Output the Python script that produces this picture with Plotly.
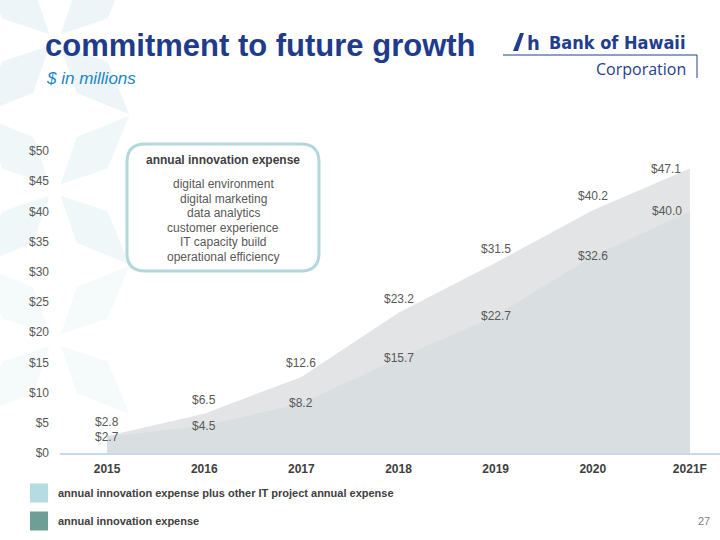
import math
import plotly.graph_objects as go

# ---------------- data ----------------
years = ["2015", "2016", "2017", "2018", "2019", "2020", "2021F"]
total_expense = [2.8, 6.5, 12.6, 23.2, 31.5, 40.2, 47.1]        # innovation + other IT project
innovation_expense = [2.7, 4.5, 8.2, 15.7, 22.7, 32.6, 40.0]
y_ticks = [0, 5, 10, 15, 20, 25, 30, 35, 40, 45, 50]
box_items = ["digital environment", "digital marketing", "data analytics",
             "customer experience", "IT capacity build", "operational efficiency"]
legend_labels = ["annual innovation expense plus other IT project annual expense",
                 "annual innovation expense"]

# ---------------- layout helpers ----------------
W, H = 720, 540
L, R, T, B = 60, 720, 151, 453
FONT = "Liberation Sans, Arial, sans-serif"


def px(x):
    return (x - L) / (R - L)


def py(y):
    return (B - y) / (B - T)


xpos = list(range(len(years)))

fig = go.Figure()

fig.add_trace(go.Scatter(
    x=xpos, y=total_expense, mode="lines", fill="tozeroy",
    line=dict(width=0, color="#e3e4e5"), fillcolor="#e3e4e5",
    hoverinfo="skip", showlegend=False))
fig.add_trace(go.Scatter(
    x=xpos, y=innovation_expense, mode="lines", fill="tozeroy",
    line=dict(width=0, color="#d9dee1"), fillcolor="#d9dee1",
    hoverinfo="skip", showlegend=False))

annotations = []
shapes = []

# data labels
n = len(years)
for i in range(n):
    last = (i == n - 1)
    annotations.append(dict(
        x=xpos[i], y=total_expense[i], xref="x", yref="y",
        text=f"${total_expense[i]:.1f}", showarrow=False,
        xshift=-24 if last else 0, yshift=0 if last else 14,
        font=dict(family=FONT, size=12, color="#595959")))
    annotations.append(dict(
        x=xpos[i], y=innovation_expense[i], xref="x", yref="y",
        text=f"${innovation_expense[i]:.1f}", showarrow=False,
        xshift=-23 if last else 0,
        font=dict(family=FONT, size=12, color="#595959")))

# background decoration (pale kites)
for cy, op in [(40, 0.8), (190, 0.7), (340, 0.45)]:
    cx = 55
    for ang in [45, -45, 135, -135]:
        a = math.radians(ang)
        Ln, wd = 105, 22
        dx, dy = math.cos(a), math.sin(a)
        nx, ny = -dy, dx
        tip = (cx + dx * Ln, cy + dy * Ln)
        m = (cx + dx * Ln * 0.5, cy + dy * Ln * 0.5)
        s1 = (m[0] + nx * wd, m[1] + ny * wd)
        s2 = (m[0] - nx * wd, m[1] - ny * wd)
        b0 = (cx + dx * 8, cy + dy * 8)
        pts = [b0, s1, tip, s2]
        path = "M " + " L ".join(f"{px(p[0]):.4f},{py(p[1]):.4f}" for p in pts) + " Z"
        shapes.append(dict(type="path", path=path, xref="paper", yref="paper",
                           fillcolor="#e8f3f6", opacity=op, line=dict(width=0),
                           layer="below"))

# title & subtitle
annotations.append(dict(x=px(43), y=py(46), xref="paper", yref="paper",
                        xanchor="left", yanchor="middle", showarrow=False,
                        text="<b>commitment to future growth</b>",
                        font=dict(family=FONT, size=31, color="#1f3b8c")))
annotations.append(dict(x=px(44), y=py(78), xref="paper", yref="paper",
                        xanchor="left", yanchor="middle", showarrow=False,
                        text="<i>$ in millions</i>",
                        font=dict(family=FONT, size=17, color="#1b86c8")))

# logo
LOGO = "#1f3e8e"
annotations.append(dict(x=px(687), y=py(43), xref="paper", yref="paper",
                        xanchor="right", yanchor="middle", showarrow=False,
                        text="<b>Bank of Hawaii</b>",
                        font=dict(family="DejaVu Sans Condensed, Liberation Sans Narrow, sans-serif",
                                  size=18, color=LOGO)))
annotations.append(dict(x=px(525), y=py(43), xref="paper", yref="paper",
                        xanchor="left", yanchor="middle", showarrow=False,
                        text="<b>h</b>",
                        font=dict(family="DejaVu Sans Condensed, sans-serif", size=20, color=LOGO)))
shapes.append(dict(type="path", xref="paper", yref="paper",
                   path=f"M {px(513):.4f},{py(51):.4f} L {px(520):.4f},{py(33):.4f} "
                        f"L {px(524):.4f},{py(33):.4f} L {px(518):.4f},{py(51):.4f} Z",
                   fillcolor=LOGO, line=dict(width=0)))
annotations.append(dict(x=px(688), y=py(69), xref="paper", yref="paper",
                        xanchor="right", yanchor="middle", showarrow=False,
                        text="Corporation",
                        font=dict(family="Open Sans, sans-serif", size=16, color=LOGO)))
shapes.append(dict(type="line", xref="paper", yref="paper",
                   x0=px(503), x1=px(697), y0=py(55), y1=py(55),
                   line=dict(color=LOGO, width=1)))
shapes.append(dict(type="line", xref="paper", yref="paper",
                   x0=px(697), x1=px(697), y0=py(55), y1=py(78),
                   line=dict(color=LOGO, width=1)))

# rounded box
x0, x1, y0, y1, r = 127, 319, 144, 271, 18
rx, ry = r / (R - L), r / (B - T)
X0, X1, Y0, Y1 = px(x0), px(x1), py(y1), py(y0)
box_path = (f"M {X0+rx:.4f},{Y1:.4f} L {X1-rx:.4f},{Y1:.4f} Q {X1:.4f},{Y1:.4f} {X1:.4f},{Y1-ry:.4f} "
            f"L {X1:.4f},{Y0+ry:.4f} Q {X1:.4f},{Y0:.4f} {X1-rx:.4f},{Y0:.4f} "
            f"L {X0+rx:.4f},{Y0:.4f} Q {X0:.4f},{Y0:.4f} {X0:.4f},{Y0+ry:.4f} "
            f"L {X0:.4f},{Y1-ry:.4f} Q {X0:.4f},{Y1:.4f} {X0+rx:.4f},{Y1:.4f} Z")
shapes.append(dict(type="path", path=box_path, xref="paper", yref="paper",
                   fillcolor="white", line=dict(color="#b3d7dd", width=3)))
annotations.append(dict(x=px(223), y=py(160), xref="paper", yref="paper",
                        xanchor="center", yanchor="middle", showarrow=False,
                        text="<b>annual innovation expense</b>",
                        font=dict(family=FONT, size=12, color="#404040")))
for k, item in enumerate(box_items):
    annotations.append(dict(x=px(223), y=py(184 + 14.5 * k), xref="paper", yref="paper",
                            xanchor="center", yanchor="middle", showarrow=False,
                            text=item, font=dict(family=FONT, size=12, color="#595959")))

# custom legend
legend_colors = ["#b5dce1", "#6f9e97"]
for k, (lab, col) in enumerate(zip(legend_labels, legend_colors)):
    yc = 493 + 28 * k
    shapes.append(dict(type="rect", xref="paper", yref="paper",
                       x0=px(30), x1=px(48), y0=py(yc + 9.5), y1=py(yc - 9.5),
                       fillcolor=col, line=dict(width=0)))
    annotations.append(dict(x=px(56), y=py(yc), xref="paper", yref="paper",
                            xanchor="left", yanchor="middle", showarrow=False,
                            text=f"<b>{lab}</b>",
                            font=dict(family=FONT, size=11, color="#404040")))

# page number
annotations.append(dict(x=px(712), y=py(521), xref="paper", yref="paper",
                        xanchor="right", yanchor="middle", showarrow=False,
                        text="27", font=dict(family=FONT, size=11, color="#7f7f7f")))

fig.update_layout(
    width=W, height=H,
    margin=dict(l=L, r=W - R, t=T, b=H - B, pad=0),
    paper_bgcolor="white", plot_bgcolor="rgba(0,0,0,0)",
    showlegend=False,
    annotations=annotations, shapes=shapes,
    xaxis=dict(range=[-0.485, 6.31], showgrid=False, zeroline=False,
               showline=True, linecolor="#c8d9ef", linewidth=2, ticks="",
               ticklabelstandoff=4,
               tickfont=dict(family=FONT, size=12, color="#404040"),
               tickvals=xpos, ticktext=[f"<b>{y}</b>" for y in years],
               fixedrange=True),
    yaxis=dict(range=[0, 50], showgrid=False, zeroline=False, showline=False,
               tickvals=y_ticks, ticktext=[f"${v}" for v in y_ticks], ticks="",
               ticklabelstandoff=10,
               tickfont=dict(family=FONT, size=12, color="#595959"),
               fixedrange=True),
)

fig.write_html("out.html", config={"displayModeBar": False},
               post_script="document.body.style.margin='0';document.body.style.overflow='hidden';")
